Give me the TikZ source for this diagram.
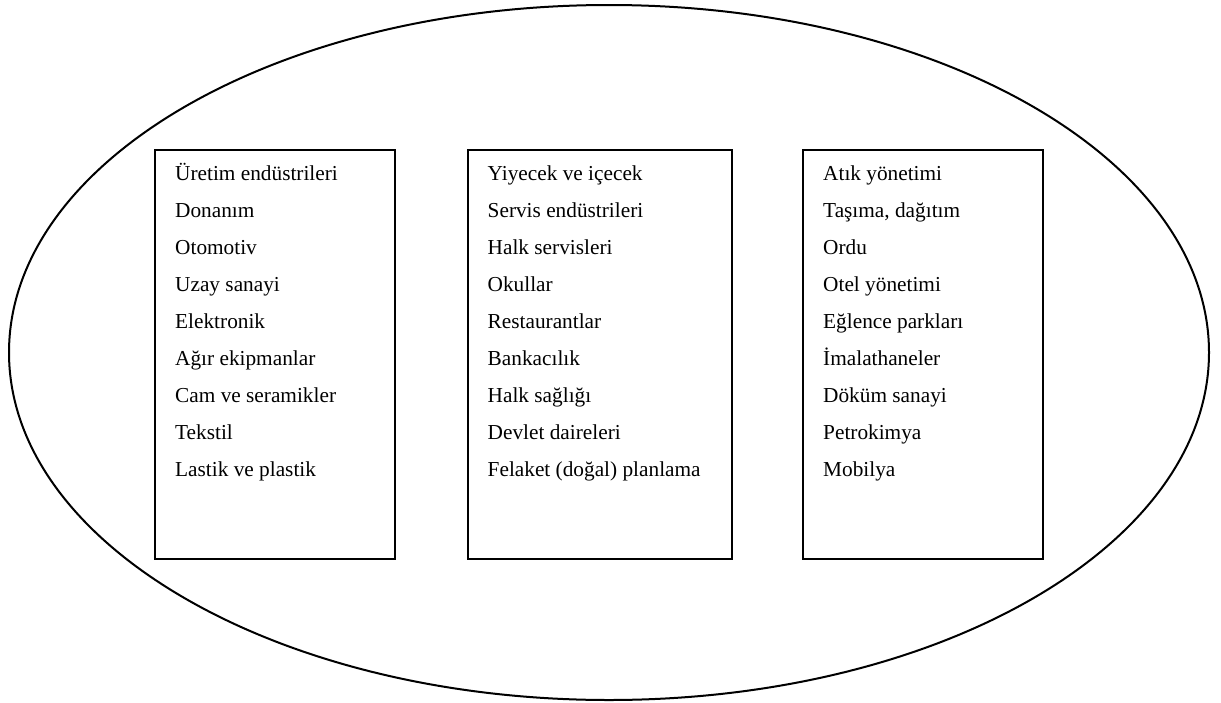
\documentclass[tikz,border=0pt]{standalone}
\usepackage{fontspec}
\setmainfont{Liberation Serif}
\begin{document}
\begin{tikzpicture}[x=1pt,y=-1pt,
  outline/.style={draw=black,line width=2pt},
  item/.style={anchor=base west,inner sep=0pt,font=\fontsize{21.3}{25}\selectfont}]
\useasboundingbox (0,0) rectangle (1221,702);
% outer ellipse
\draw[outline] (609,352.5) ellipse [x radius=600, y radius=347.5];
% three list boxes
\draw[outline] (155,150) rectangle (395,559);
\draw[outline] (467.5,150) rectangle (731.5,559);
\draw[outline] (803,150) rectangle (1043,559);
% left list
\foreach \t [count=\i from 0] in {Üretim endüstrileri,Donanım,Otomotiv,Uzay sanayi,Elektronik,Ağır ekipmanlar,Cam ve seramikler,Tekstil,Lastik ve plastik}
  \node[item] (a\i) at (175,180.5+37*\i) {\t};
% middle list
\foreach \t [count=\i from 0] in {Yiyecek ve içecek,Servis endüstrileri,Halk servisleri,Okullar,Restaurantlar,Bankacılık,Halk sağlığı,Devlet daireleri,Felaket (doğal) planlama}
  \node[item] (b\i) at (487.5,180.5+37*\i) {\t};
% right list
\foreach \t [count=\i from 0] in {Atık yönetimi,{Taşıma, dağıtım},Ordu,Otel yönetimi,Eğlence parkları,İmalathaneler,Döküm sanayi,Petrokimya,Mobilya}
  \node[item] (c\i) at (823,180.5+37*\i) {\t};
\end{tikzpicture}
\end{document}
